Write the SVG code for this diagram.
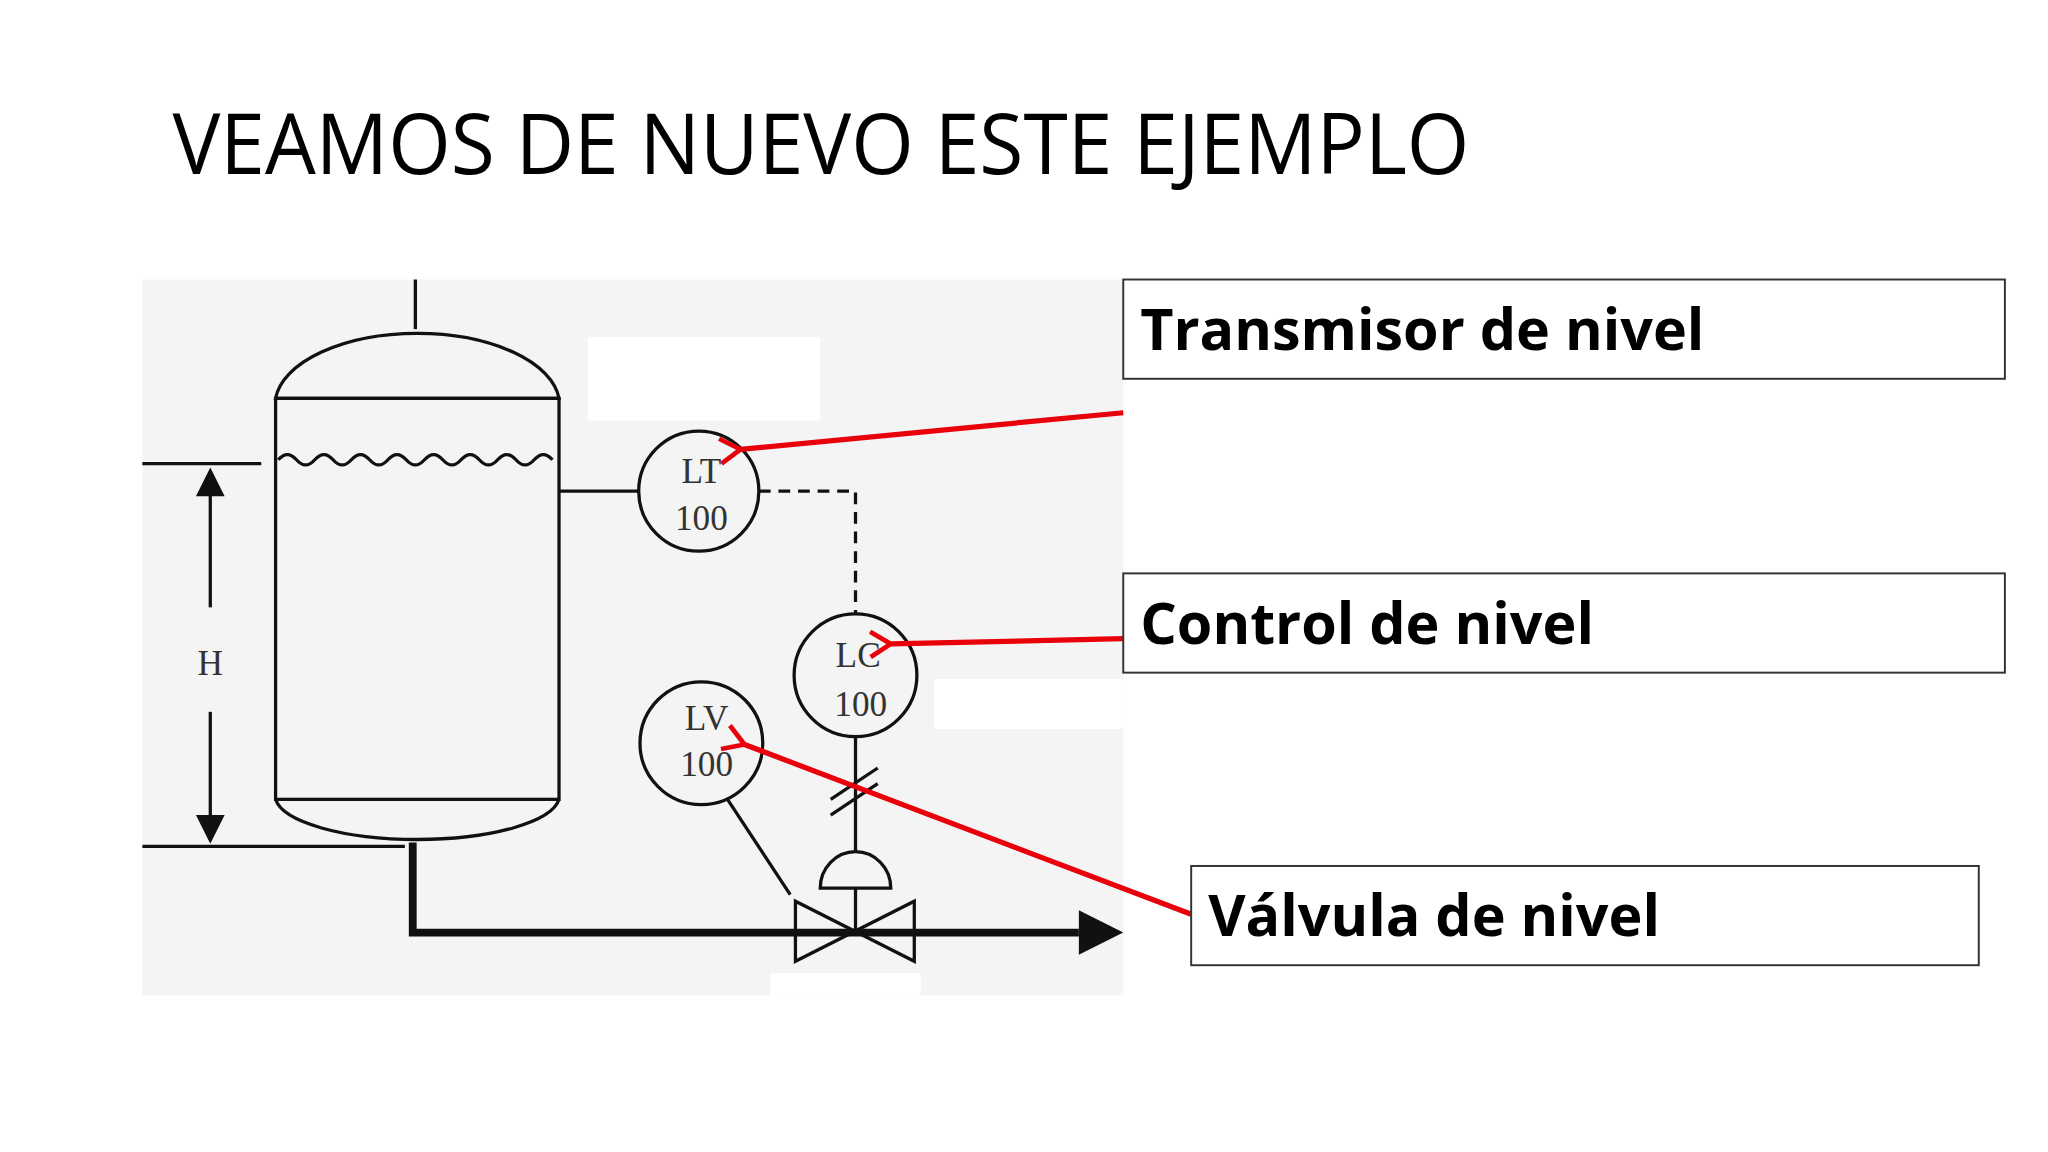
<svg xmlns="http://www.w3.org/2000/svg" width="2048" height="1152" viewBox="0 0 2048 1152">
<style>
.k{fill:none;stroke:#111;stroke-width:2.5}
.s{font-family:"Liberation Serif",serif;font-size:27px;fill:#333;text-anchor:middle}
.r{stroke:#e8000b;stroke-width:4;fill:none}
.b{fill:#fff;stroke:#333;stroke-width:1.5}
.t{font-family:"Open Sans","Noto Sans",sans-serif;font-weight:bold;font-size:44px;fill:#000}
</style>
<defs><marker id="ah" viewBox="0 0 20 20" refX="3" refY="10" markerWidth="6" markerHeight="6" orient="auto-start-reverse" markerUnits="strokeWidth"><path d="M16,2 L3,10 L16,18" fill="none" stroke="#e8000b" stroke-width="3"/></marker></defs>
<rect width="2048" height="1152" fill="#fff"/>
<g transform="scale(1.30612)">
<text x="132" y="133" font-family="Open Sans,Noto Sans,sans-serif" font-size="64" textLength="993" lengthAdjust="spacingAndGlyphs" fill="#000">VEAMOS DE NUEVO ESTE EJEMPLO</text>
<g id="panel">
<rect x="109" y="214" width="751" height="548" fill="#f4f4f4"/>
<rect x="450" y="258" width="178" height="64" fill="#fff"/>
<rect x="715" y="520" width="145" height="38" fill="#fff"/>
<rect x="590" y="745" width="115" height="17" fill="#fff"/>
</g>
<g id="tank">
<line class="k" x1="318" y1="214" x2="318" y2="252" stroke-width="4"/>
<path class="k" d="M211,305 A109,55 0 0 1 428,305 Z"/>
<rect class="k" x="211" y="305" width="217" height="307"/>
<path class="k" d="M211,612 A109,34 0 0 0 428,612"/>
<path class="k" d="M213,352 q7,-8 14,0 t14,0 t14,0 t14,0 t14,0 t14,0 t14,0 t14,0 t14,0 t14,0 t14,0 t14,0 t14,0 t14,0 t14,0"/>
</g>
<g id="dimension">
<line class="k" x1="109" y1="355" x2="200" y2="355"/>
<line class="k" x1="109" y1="648" x2="310" y2="648"/>
<line class="k" x1="161" y1="378" x2="161" y2="465"/>
<line class="k" x1="161" y1="545" x2="161" y2="627"/>
<path d="M161,358 L150,380 L172,380 Z M161,646 L150,624 L172,624 Z" fill="#111"/>
<text class="s" x="161" y="517">H</text>
</g>
<g id="connectors">
<path d="M316,645 V714 H826" fill="none" stroke="#111" stroke-width="6"/>
<path d="M826,697 L860,714 L826,731 Z" fill="#111"/>
<line class="k" x1="428" y1="376" x2="489" y2="376"/>
<path class="k" d="M581,376 H655 V470" stroke-dasharray="9,6"/>
<line class="k" x1="655" y1="564" x2="655" y2="652"/>
<line class="k" x1="636" y1="612" x2="672" y2="588"/>
<line class="k" x1="636" y1="624" x2="672" y2="600"/>
<line class="k" x1="557" y1="612" x2="605" y2="685"/>
<line class="k" x1="655" y1="680" x2="655" y2="713"/>
</g>
<g id="LT"><circle class="k" cx="535" cy="376" r="46"/><text class="s" x="537" y="370">LT</text><text class="s" x="537" y="406">100</text></g>
<g id="LC"><circle class="k" cx="655" cy="517" r="47"/><text class="s" x="657" y="511">LC</text><text class="s" x="659" y="548">100</text></g>
<g id="LV"><circle class="k" cx="537" cy="569" r="47"/><text class="s" x="541" y="559">LV</text><text class="s" x="541" y="594">100</text></g>
<g id="valve">
<path class="k" d="M628,680 A27,28 0 0 1 682,680 Z"/>
<path class="k" d="M609,690 L609,736 L700,690 L700,736 Z" fill="#f4f4f4"/>
</g>
<g id="arrows">
<line class="r" x1="860" y1="316" x2="567" y2="344" marker-end="url(#ah)"/>
<line class="r" x1="860" y1="489" x2="682" y2="493" marker-end="url(#ah)"/>
<line class="r" x1="912" y1="700" x2="570" y2="570" marker-end="url(#ah)"/>
</g>
<g id="box1"><rect class="b" x="860" y="214" width="675" height="76"/><text class="t" x="873" y="268">Transmisor de nivel</text></g>
<g id="box2"><rect class="b" x="860" y="439" width="675" height="76"/><text class="t" x="873" y="493">Control de nivel</text></g>
<g id="box3"><rect class="b" x="912" y="663" width="603" height="76"/><text class="t" x="925" y="717">Válvula de nivel</text></g>
</g>
</svg>
